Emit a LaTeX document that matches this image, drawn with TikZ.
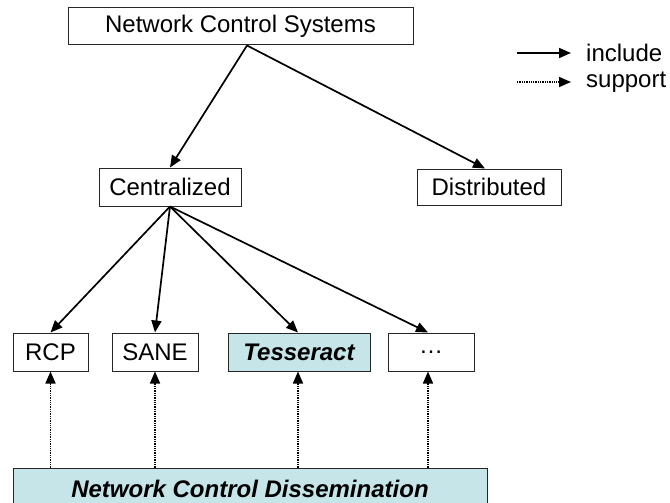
\documentclass[tikz,border=0pt]{standalone}
\usepackage{fontspec}
\setmainfont{Liberation Sans}
\usetikzlibrary{arrows.meta,calc}
\definecolor{cyanfill}{RGB}{197,229,232}
\tikzset{
  box/.style={draw=black!85, line width=1pt, rectangle, inner sep=0pt,
              font=\fontsize{24}{28}\selectfont},
  incl/.style={line width=1.7pt, -{Triangle[length=12pt,width=10pt]}},
  supp/.style={line width=1.7pt, dash pattern=on 1.3pt off 1pt,
               -{Triangle[length=12pt,width=10pt]}},
  lbl/.style={anchor=west, inner sep=0pt, font=\fontsize{24}{28}\selectfont},
}
\begin{document}
\begin{tikzpicture}[x=1pt,y=-1pt]
  \useasboundingbox (0,0) rectangle (670,503);
  \clip (0,0) rectangle (670,503);

  % hierarchy of systems
  \node[box, minimum width=345pt, minimum height=37pt] (nsys) at (240.5,26.5) {Network Control Systems};
  \node[box, minimum width=142pt, minimum height=38pt] (cent) at (170,187) {Centralized};
  \node[box, minimum width=144pt, minimum height=36pt] (dist) at (489,187) {Distributed};

  \node[box, minimum width=75pt, minimum height=38pt] (rcp) at (50.5,352) {RCP};
  \node[box, minimum width=86pt, minimum height=38pt] (sane) at (155,352) {SANE};
  \node[box, fill=cyanfill, minimum width=142pt, minimum height=38pt] (tess) at (299,352) {\bfseries\itshape Tesseract};
  \node[box, minimum width=86pt, minimum height=38pt] (more) at (431,352) {\dots};

  \node[box, fill=cyanfill, minimum width=474pt, minimum height=42pt] (ncd) at (250,489) {\bfseries\itshape Network Control Dissemination};

  % attachment points on the boxes
  \coordinate (nsysout) at ($(nsys.south)+(6.5,0)$);
  \coordinate (distin) at ($(dist.north)+(-4,0)$);
  \coordinate (tessin) at ($(tess.north)+(-1,0)$);
  \coordinate (tessup) at ($(tess.south)+(-1,0)$);
  \coordinate (morein) at ($(more.north)+(-3,0)$);
  \coordinate (moreup) at ($(more.south)+(-3,0)$);

  % "include" relations
  \draw[incl] (nsysout) -- (cent.north);
  \draw[incl] (nsysout) -- (distin);
  \draw[incl] (cent.south) -- (rcp.north);
  \draw[incl] (cent.south) -- (sane.north);
  \draw[incl] (cent.south) -- (tessin);
  \draw[incl] (cent.south) -- (morein);

  % "support" relations
  \draw[supp] (rcp.south |- ncd.north) -- (rcp.south);
  \draw[supp] (sane.south |- ncd.north) -- (sane.south);
  \draw[supp] (tessup |- ncd.north) -- (tessup);
  \draw[supp] (moreup |- ncd.north) -- (moreup);

  % legend
  \coordinate (li0) at (517,53);
  \coordinate (li1) at (571,53);
  \coordinate (ls0) at (517,82);
  \coordinate (ls1) at (571,82);
  \draw[incl] (li0) -- (li1);
  \draw[supp] (ls0) -- (ls1);
  \node[lbl] (linc) at (586,53) {include};
  \node[lbl] (lsup) at (586,82) {support};
\end{tikzpicture}
\end{document}
